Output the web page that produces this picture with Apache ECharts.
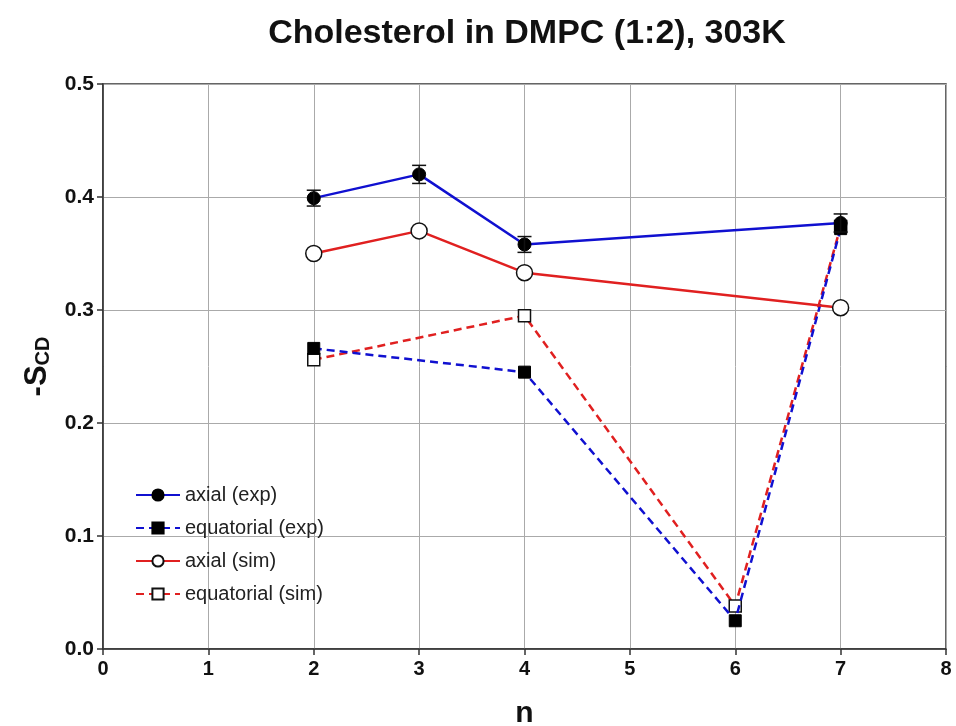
<!DOCTYPE html>
<html>
<head>
<meta charset="utf-8">
<script src="https://cdn.jsdelivr.net/npm/echarts@6/dist/echarts.min.js"></script>
<style>html,body{margin:0;padding:0;background:#fff}#c{width:956px;height:726px}</style>
</head>
<body>
<div id="c"></div>
<script>
const xTicks = [0, 1, 2, 3, 4, 5, 6, 7, 8];
const yTicks = [0.0, 0.1, 0.2, 0.3, 0.4, 0.5];

const axialExpN = [2, 3, 4, 7];
const axialExp = [0.399, 0.420, 0.358, 0.377];
const axialExpErr = [0.007, 0.008, 0.007, 0.008];

const eqExpN = [2, 4, 6, 7];
const eqExp = [0.266, 0.245, 0.025, 0.372];

const axialSimN = [2, 3, 4, 7];
const axialSim = [0.350, 0.370, 0.333, 0.302];

const eqSimN = [2, 4, 6, 7];
const eqSim = [0.256, 0.295, 0.038, 0.374];

const BLUE = '#1010d0';
const RED = '#e02020';

const pair = (xs, ys) => xs.map((x, i) => [x, ys[i]]);

const chart = echarts.init(document.getElementById('c'), null, {renderer: 'canvas'});
const font = 'Liberation Sans, Arial, sans-serif';

chart.setOption({
  animation: false,
  backgroundColor: '#fff',
  title: {
    text: 'Cholesterol in DMPC (1:2), 303K',
    left: 522, top: 12, textAlign: 'center',
    textStyle: {fontFamily: font, fontWeight: 'bold', fontSize: 34, color: '#111'}
  },
  grid: {left: 103, right: 10, top: 84, bottom: 77, show: true, borderColor: '#333', borderWidth: 1.5,
    backgroundColor: 'transparent', outerBoundsMode: 'none', containLabel: false},
  legend: {
    left: 130, top: 480, orient: 'vertical', itemGap: 13,
    itemWidth: 44, itemHeight: 14,
    textStyle: {fontFamily: font, fontSize: 20, color: '#222'},
    data: ['axial (exp)', 'equatorial (exp)', 'axial (sim)', 'equatorial (sim)']
  },
  xAxis: {
    type: 'value', min: xTicks[0], max: xTicks[xTicks.length - 1], interval: 1,
    name: 'n', nameLocation: 'middle', nameGap: 50,
    nameTextStyle: {fontFamily: font, fontWeight: 'bold', fontSize: 30, color: '#111'},
    axisLine: {show: true, lineStyle: {color: '#333', width: 1.5}},
    axisTick: {show: true, length: 6, lineStyle: {color: '#333', width: 1.5}},
    axisLabel: {fontFamily: font, fontWeight: 'bold', fontSize: 20, color: '#111', margin: 10},
    splitLine: {show: true, lineStyle: {color: '#aaa', width: 1}}
  },
  yAxis: {
    type: 'value', min: yTicks[0], max: yTicks[yTicks.length - 1], interval: 0.1,
    name: '{a|-S}{b|CD}', nameLocation: 'middle', nameGap: 48, nameRotate: 90,
    nameTextStyle: {
      rich: {
        a: {fontFamily: font, fontWeight: 'bold', fontSize: 31, color: '#111'},
        b: {fontFamily: font, fontWeight: 'bold', fontSize: 20, color: '#111', padding: [12, 0, 0, 0]}
      }
    },
    axisLine: {show: true, lineStyle: {color: '#333', width: 1.5}},
    axisTick: {show: true, length: 6, lineStyle: {color: '#333', width: 1.5}},
    axisLabel: {fontFamily: font, fontWeight: 'bold', fontSize: 21, color: '#111', margin: 9,
      formatter: v => v.toFixed(1)},
    splitLine: {show: true, lineStyle: {color: '#aaa', width: 1}}
  },
  series: [
    {
      name: 'equatorial (sim)', type: 'line', data: pair(eqSimN, eqSim),
      symbol: 'rect', symbolSize: 12, z: 3,
      lineStyle: {color: RED, width: 2.5, type: [8, 5]},
      itemStyle: {color: '#fff', borderColor: '#111', borderWidth: 1.5}
    },
    {
      name: 'equatorial (exp)', type: 'line', data: pair(eqExpN, eqExp),
      symbol: 'rect', symbolSize: 12, z: 4,
      lineStyle: {color: BLUE, width: 2.5, type: [8, 5]},
      itemStyle: {color: '#000', borderColor: '#000', borderWidth: 1}
    },
    {
      name: 'axial (sim)', type: 'line', data: pair(axialSimN, axialSim),
      symbol: 'circle', symbolSize: 16, z: 5,
      lineStyle: {color: RED, width: 2.5},
      itemStyle: {color: '#fff', borderColor: '#111', borderWidth: 1.5}
    },
    {
      name: 'axial (exp)', type: 'line', data: pair(axialExpN, axialExp),
      symbol: 'circle', symbolSize: 13, z: 6,
      lineStyle: {color: BLUE, width: 2.5},
      itemStyle: {color: '#000', borderColor: '#000', borderWidth: 1}
    },
    {
      name: 'err', type: 'custom', z: 7,
      data: axialExpN.map((x, i) => [x, axialExp[i], axialExpErr[i]]),
      renderItem: function (params, api) {
        const x = api.value(0), y = api.value(1), e = api.value(2);
        const top = api.coord([x, y + e]);
        const bot = api.coord([x, y - e]);
        const w = 7;
        const st = {stroke: '#111', lineWidth: 1.5};
        return {
          type: 'group',
          children: [
            {type: 'line', shape: {x1: top[0], y1: top[1], x2: bot[0], y2: bot[1]}, style: st},
            {type: 'line', shape: {x1: top[0] - w, y1: top[1], x2: top[0] + w, y2: top[1]}, style: st},
            {type: 'line', shape: {x1: bot[0] - w, y1: bot[1], x2: bot[0] + w, y2: bot[1]}, style: st}
          ]
        };
      }
    }
  ]
});
</script>
</body>
</html>
